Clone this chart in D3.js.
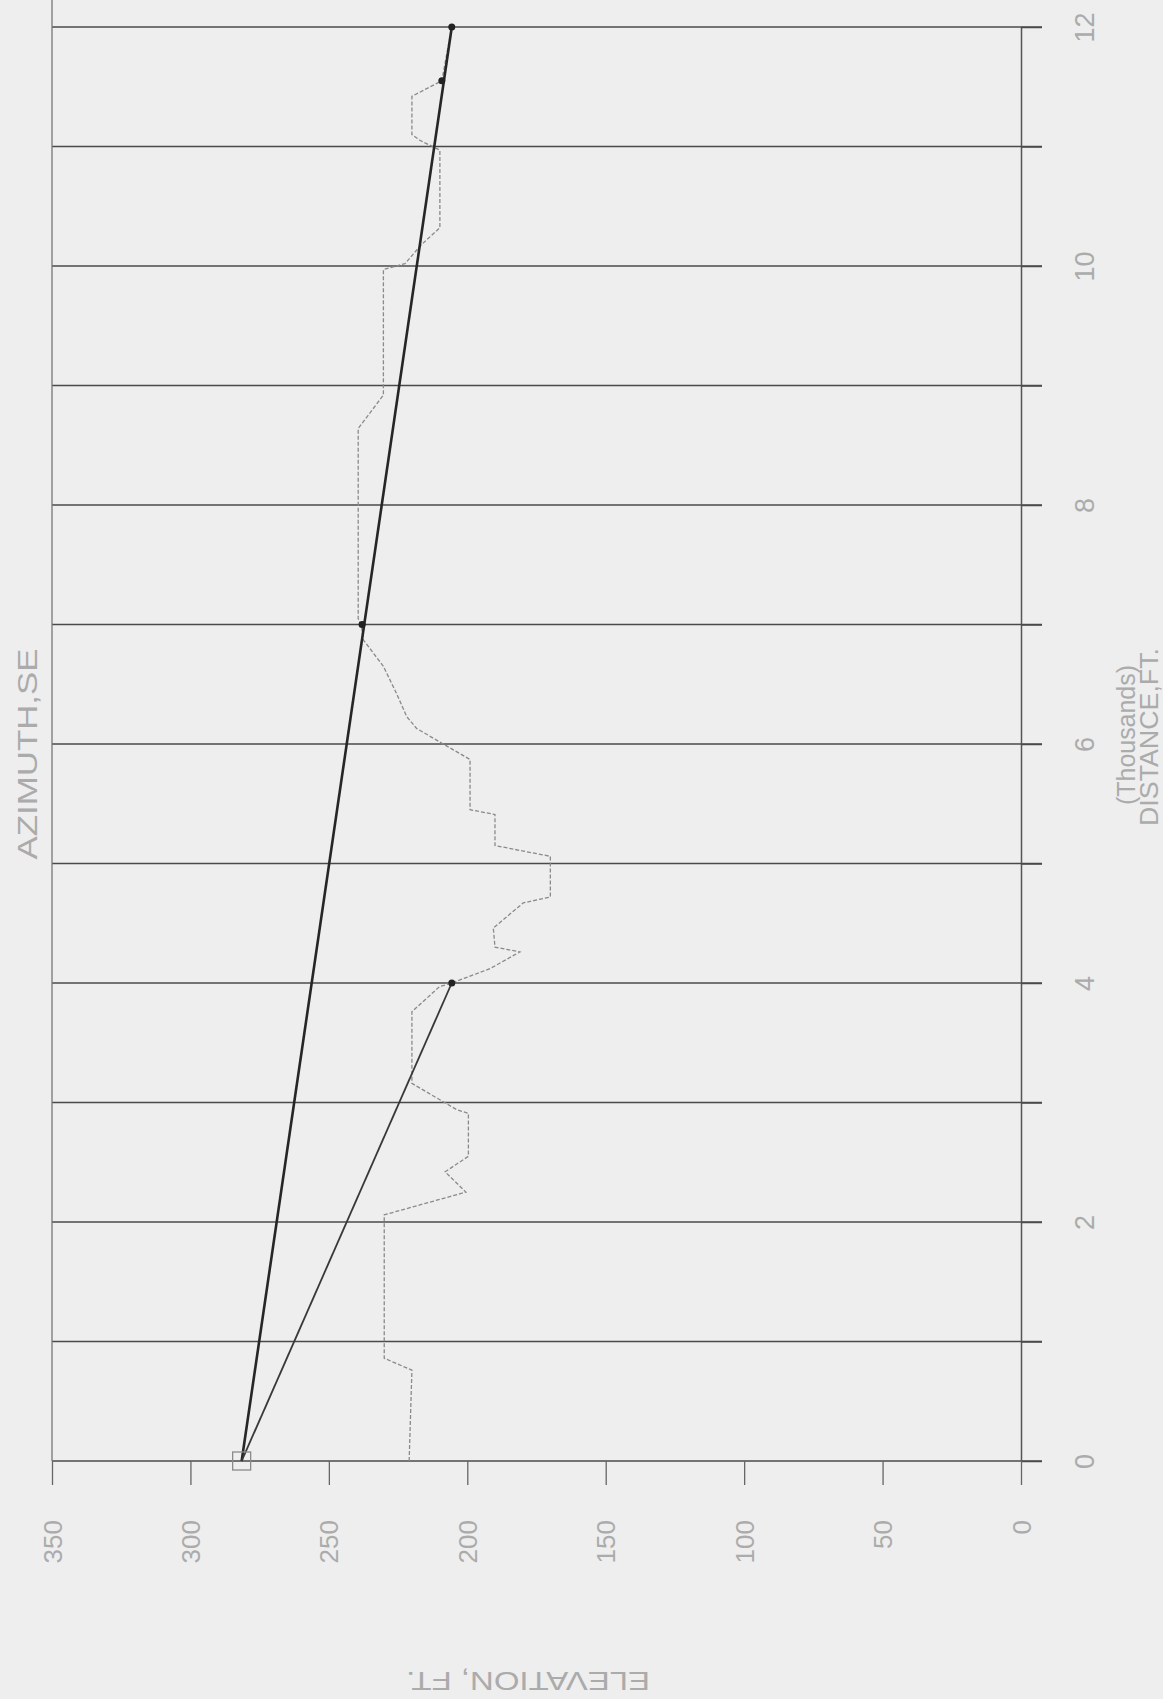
<!doctype html>
<html>
<head>
<meta charset="utf-8">
<script src="https://cdnjs.cloudflare.com/ajax/libs/d3/7.8.5/d3.min.js"></script>
<style>
  body { margin: 0; background: #eeeeee; }
  svg { display: block; }
  .lbl { font-family: "Liberation Sans", Arial, sans-serif; fill: #ababab; }
</style>
</head>
<body>
<svg class="chart" width="1163" height="1699"></svg>
<script>
// distance in thousands of ft, elevation in ft (page is the plot turned a quarter turn)
var distTicks = [0, 1, 2, 3, 4, 5, 6, 7, 8, 9, 10, 11, 12]
var distLabels = ["0", "", "2", "", "4", "", "6", "", "8", "", "10", "", "12"]
var elevTicks = [0, 50, 100, 150, 200, 250, 300, 350]

var terrainDist = [0, 0.76, 0.86, 2.06, 2.25, 2.42, 2.55, 2.91, 2.94, 3.16, 3.76, 3.97, 4.0,
  4.12, 4.26, 4.30, 4.46, 4.67, 4.72, 5.06, 5.15, 5.41, 5.45, 5.87, 6.0, 6.13, 6.23, 6.42,
  6.65, 6.87, 6.98, 7.05, 8.64, 8.92, 9.97, 10.02, 10.18, 10.32, 10.97, 11.05, 11.1, 11.42,
  11.55, 12]
var terrainElev = [221, 220, 230, 230, 200.5, 208, 199.6, 199.6, 203.8, 220, 220, 210, 205.6,
  191.8, 181, 190, 190.6, 179.8, 170, 170, 190, 190, 199, 199, 208.7, 218.3, 221.9, 225.5,
  230.3, 237.5, 238.2, 239.4, 239.4, 230.3, 230.3, 222.5, 216.5, 209.9, 209.9, 217, 220,
  220, 209.2, 205.6]

var ray1Dist = [0, 12], ray1Elev = [281.5, 205.6]
var ray2Dist = [0, 4], ray2Elev = [281.5, 205.6]
var siteDist = 0, siteElev = 281.5
var hitDist = [4, 7, 11.55, 12], hitElev = [205.6, 238, 209.2, 205.6]

var svg = d3.select("svg")

var dist = d3.scaleLinear().domain([0, 12]).range([1461, 27])
var elev = d3.scaleLinear().domain([0, 350]).range([1021, 52])

// horizontal grid lines, one per thousand feet
svg.selectAll("line.grid")
  .data(distTicks)
  .enter()
  .append("line")
  .attr("class", "grid")
  .attr("x1", elev(350))
  .attr("x2", elev(0) + 21)
  .attr("y1", d => dist(d))
  .attr("y2", d => dist(d))
  .style("stroke", "#4a4a4a")
  .style("stroke-width", "1.5px")

// left border
svg.append("line")
  .attr("x1", elev(350)).attr("x2", elev(350))
  .attr("y1", 0).attr("y2", dist(0))
  .style("stroke", "#777").style("stroke-width", "1.3px")

var distAxis = svg.append("g")
  .attr("transform", "translate(" + elev(0) + ",0)")
  .call(d3.axisRight(dist).tickValues(distTicks).tickSize(21).tickSizeOuter(0)
    .tickFormat((d, i) => distLabels[i]))
distAxis.select(".domain").style("stroke", "#555").style("stroke-width", "1.5px")
distAxis.selectAll(".tick line").style("stroke", "#4a4a4a").style("stroke-width", "1.5px")
distAxis.selectAll("text")
  .attr("class", "lbl")
  .attr("x", 0).attr("y", 0)
  .attr("dy", "0.35em")
  .attr("text-anchor", "middle")
  .attr("transform", "translate(64,0) rotate(-90)")
  .style("font-size", "27px")

var elevAxis = svg.append("g")
  .attr("transform", "translate(0," + dist(0) + ")")
  .call(d3.axisBottom(elev).tickValues(elevTicks).tickSize(24).tickSizeOuter(0))
elevAxis.select(".domain").style("stroke", "none")
elevAxis.selectAll(".tick line").style("stroke", "#666").style("stroke-width", "1.3px")
elevAxis.selectAll("text")
  .attr("class", "lbl")
  .attr("x", -59).attr("y", 0)
  .attr("dy", "0.35em")
  .attr("text-anchor", "end")
  .attr("transform", "rotate(-90)")
  .style("font-size", "26px")

// terrain profile
var pts = terrainDist.map((d, i) => [d, terrainElev[i]])
var line = d3.line().x(d => elev(d[1])).y(d => dist(d[0]))

svg.append("path")
  .attr("d", line(pts))
  .style("fill", "none")
  .style("stroke", "#8a8a8a")
  .style("stroke-width", "1.3px")
  .style("stroke-dasharray", "4,2")

// sight lines from the site
svg.append("path")
  .attr("d", line(ray1Dist.map((d, i) => [d, ray1Elev[i]])))
  .style("fill", "none").style("stroke", "#262626").style("stroke-width", "2.6px")
svg.append("path")
  .attr("d", line(ray2Dist.map((d, i) => [d, ray2Elev[i]])))
  .style("fill", "none").style("stroke", "#383838").style("stroke-width", "1.8px")

svg.selectAll("circle.hit")
  .data(hitDist)
  .enter()
  .append("circle")
  .attr("class", "hit")
  .attr("cx", (d, i) => elev(hitElev[i]))
  .attr("cy", d => dist(d))
  .attr("r", 3.5)
  .style("fill", "#222")

svg.append("rect")
  .attr("x", elev(siteElev) - 9).attr("y", dist(siteDist) - 9)
  .attr("width", 18).attr("height", 18)
  .style("fill", "none").style("stroke", "#8a8a8a").style("stroke-width", "1.3px")

// titles
svg.append("text").attr("class", "lbl")
  .attr("transform", "translate(27,754) rotate(-90)")
  .attr("text-anchor", "middle").attr("dy", "0.35em")
  .attr("textLength", 211).attr("lengthAdjust", "spacingAndGlyphs")
  .style("font-size", "28px")
  .text("AZIMUTH,SE")

svg.append("text").attr("class", "lbl")
  .attr("transform", "translate(1126,735) rotate(-90)")
  .attr("text-anchor", "middle").attr("dy", "0.35em")
  .attr("textLength", 140).attr("lengthAdjust", "spacingAndGlyphs")
  .style("font-size", "25px")
  .text("(Thousands)")

svg.append("text").attr("class", "lbl")
  .attr("transform", "translate(1149,737) rotate(-90)")
  .attr("text-anchor", "middle").attr("dy", "0.35em")
  .attr("textLength", 178).attr("lengthAdjust", "spacingAndGlyphs")
  .style("font-size", "25px")
  .text("DISTANCE,FT.")

svg.append("text").attr("class", "lbl")
  .attr("transform", "translate(528,1681) rotate(180)")
  .attr("text-anchor", "middle").attr("dy", "0.35em")
  .attr("textLength", 244).attr("lengthAdjust", "spacingAndGlyphs")
  .style("font-size", "25px")
  .text("ELEVATION, FT.")
</script>
</body>
</html>
